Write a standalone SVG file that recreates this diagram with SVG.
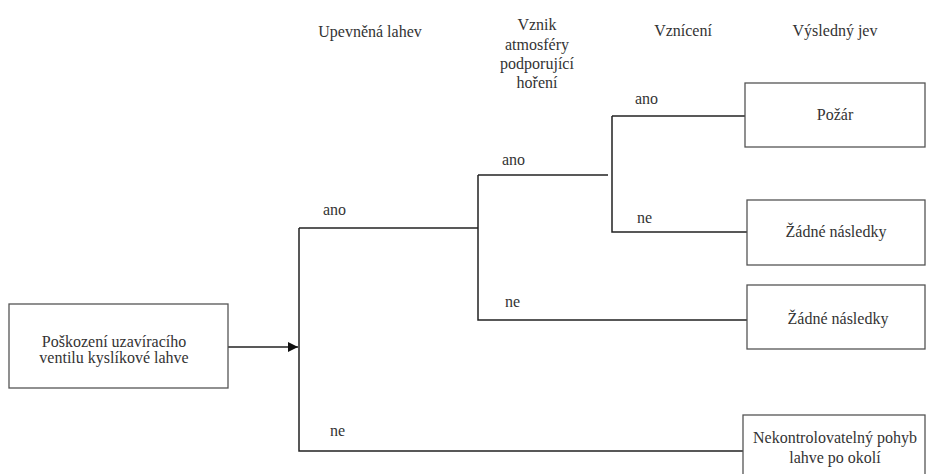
<svg xmlns="http://www.w3.org/2000/svg" width="926" height="474" viewBox="0 0 926 474" font-family="Liberation Serif, DejaVu Serif, serif" font-size="16">
<style>
text{fill:#333;}
.c{text-anchor:middle;}
.box{fill:#fff;stroke:#555;stroke-width:1.3;}
.ln{fill:none;stroke:#222;stroke-width:1.5;}
</style>
<defs>
<marker id="arr" viewBox="0 0 10 10" refX="10" refY="5" markerWidth="10" markerHeight="10" markerUnits="userSpaceOnUse" orient="auto">
<path d="M0,0 L10,5 L0,10 z" fill="#111"/>
</marker>
</defs>
<rect width="926" height="474" fill="#fff"/>
<g id="headers">
<text class="c" x="370" y="37">Upevněná lahev</text>
<text class="c" x="537" y="30">Vznik</text>
<text class="c" x="537" y="50">atmosféry</text>
<text class="c" x="537" y="69">podporující</text>
<text class="c" x="537" y="88">hoření</text>
<text class="c" x="683" y="36">Vznícení</text>
<text class="c" x="835" y="36">Výsledný jev</text>
</g>
<g id="connectors">
<path class="ln" d="M228,347 L298,347" marker-end="url(#arr)"/>
<path class="ln" d="M299,228 L299,451 L743,451"/>
<path class="ln" d="M299,228 L478,228"/>
<path class="ln" d="M478,175 L478,320 L747,320"/>
<path class="ln" d="M478,175 L608,175"/>
<path class="ln" d="M612,116 L612,232 L747,232"/>
<path class="ln" d="M612,116 L745,116"/>
</g>
<g id="labels">
<text x="323" y="215">ano</text>
<text x="330" y="436">ne</text>
<text x="502" y="165">ano</text>
<text x="505" y="307">ne</text>
<text x="635" y="104">ano</text>
<text x="637" y="223">ne</text>
</g>
<g id="start">
<rect class="box" x="9" y="304" width="219" height="84"/>
<text class="c" x="114" y="347">Poškození uzavíracího</text>
<text class="c" x="114" y="363">ventilu kyslíkové lahve</text>
</g>
<g id="pozar">
<rect class="box" x="745" y="83" width="180" height="64"/>
<text class="c" x="835" y="120">Požár</text>
</g>
<g id="zadne1">
<rect class="box" x="747" y="200" width="178" height="65"/>
<text class="c" x="836" y="237">Žádné následky</text>
</g>
<g id="zadne2">
<rect class="box" x="747" y="285" width="178" height="64"/>
<text class="c" x="838" y="324">Žádné následky</text>
</g>
<g id="pohyb">
<rect class="box" x="743" y="415" width="182" height="70"/>
<text class="c" x="835" y="443">Nekontrolovatelný pohyb</text>
<text class="c" x="835" y="463">lahve po okolí</text>
</g>
</svg>
